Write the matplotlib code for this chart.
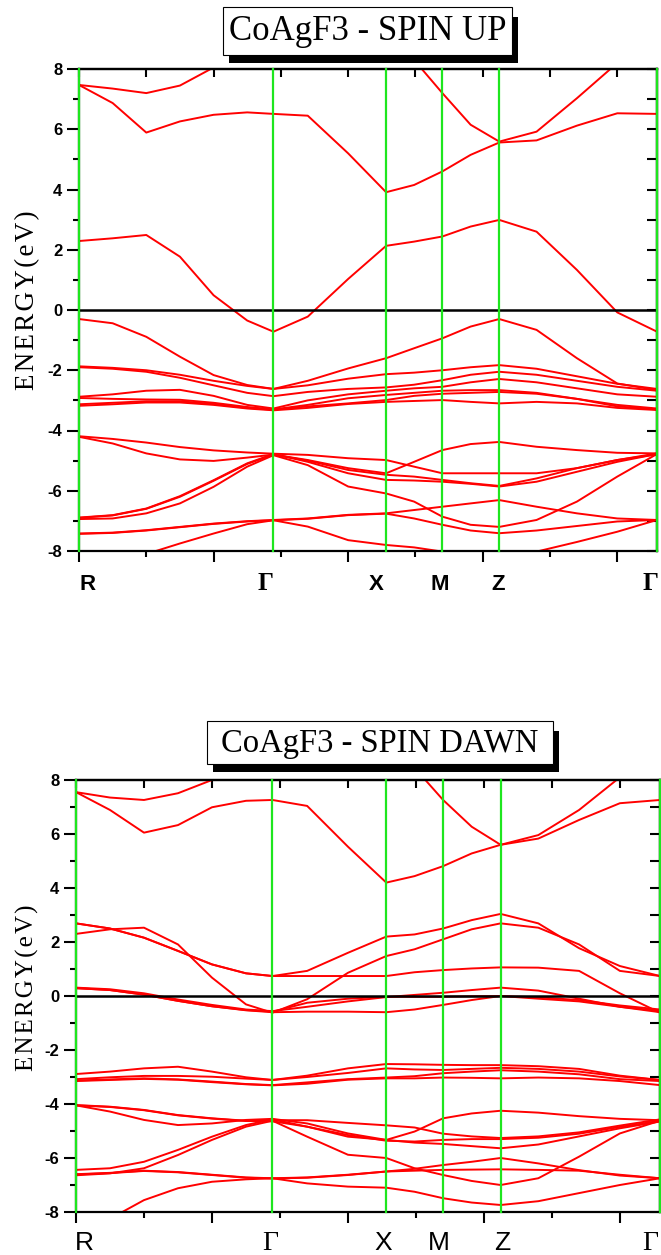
import numpy as np
import matplotlib
matplotlib.use('Agg')
import matplotlib.pyplot as plt
from matplotlib.patches import Rectangle
from matplotlib.ticker import MultipleLocator

plt.rcParams['font.family'] = ['Liberation Sans', 'DejaVu Sans']
plt.rcParams['axes.unicode_minus'] = False

# k path (major tick = 1 unit) and sampled k values used for every band
kgrid = [0.0, 0.25, 0.5, 0.75, 1.0, 1.25, 1.445, 1.7, 2.0, 2.282, 2.49, 2.70,
         2.91, 3.123, 3.4, 3.7, 4.0, 4.295]
kpts = [0.0, 1.445, 2.282, 2.70, 3.123, 4.295]
klabels = ['R', 'Γ', 'X', 'M', 'Z', 'Γ']

# ---------------- spin up bands (eV) ----------------
up_c1 = [7.47, 7.35, 7.2, 7.45, 8.05, 8.8, 9.3, 9.6, 9.8, 9.7, 8.3, 7.2, 6.15, 5.59, 5.92, 7.03, 8.2, 9.5]
up_c2 = [7.47, 6.87, 5.89, 6.26, 6.48, 6.56, 6.51, 6.45, 5.2, 3.91, 4.15, 4.6, 5.15, 5.56, 5.63, 6.12, 6.53, 6.51]
up_c3 = [2.29, 2.38, 2.49, 1.77, 0.49, -0.35, -0.72, -0.22, 1.03, 2.13, 2.27, 2.44, 2.77, 2.99, 2.6, 1.33, -0.08, -0.72]
up_v1 = [-0.3, -0.44, -0.89, -1.55, -2.16, -2.49, -2.62, -2.35, -1.94, -1.6, -1.27, -0.94, -0.55, -0.3, -0.66, -1.6, -2.44, -2.66]
up_p1 = [-1.87, -1.92, -2.0, -2.15, -2.35, -2.52, -2.62, -2.5, -2.28, -2.13, -2.08, -2.0, -1.9, -1.83, -1.95, -2.2, -2.45, -2.62]
up_p2 = [-1.9, -1.95, -2.05, -2.25, -2.5, -2.75, -2.86, -2.72, -2.62, -2.57, -2.48, -2.33, -2.15, -2.05, -2.15, -2.35, -2.55, -2.68]
up_p3 = [-2.88, -2.8, -2.68, -2.65, -2.85, -3.15, -3.27, -3.0, -2.8, -2.68, -2.6, -2.55, -2.4, -2.29, -2.4, -2.6, -2.8, -2.88]
up_p4 = [-2.92, -2.95, -2.97, -2.98, -3.08, -3.22, -3.3, -3.15, -2.93, -2.82, -2.75, -2.68, -2.66, -2.66, -2.75, -2.95, -3.15, -3.27]
up_p5 = [-3.13, -3.08, -3.03, -3.03, -3.12, -3.25, -3.31, -3.2, -3.1, -2.99, -2.85, -2.78, -2.75, -2.72, -2.78, -2.95, -3.2, -3.3]
up_p6 = [-3.18, -3.13, -3.07, -3.07, -3.15, -3.27, -3.33, -3.25, -3.12, -3.05, -3.02, -2.99, -3.05, -3.1, -3.05, -3.1, -3.25, -3.32]
up_l1 = [-4.19, -4.28, -4.4, -4.55, -4.66, -4.73, -4.77, -4.81, -4.92, -4.98, -5.2, -5.42, -5.42, -5.42, -5.42, -5.25, -4.98, -4.76]
up_l2 = [-4.21, -4.43, -4.76, -4.96, -5.01, -4.9, -4.8, -4.98, -5.25, -5.42, -5.04, -4.65, -4.45, -4.38, -4.54, -4.65, -4.74, -4.76]
up_l3 = [-6.89, -6.81, -6.59, -6.18, -5.65, -5.09, -4.78, -5.04, -5.42, -5.64, -5.66, -5.7, -5.77, -5.86, -5.7, -5.37, -5.04, -4.78]
up_l4 = [-6.9, -6.82, -6.6, -6.2, -5.67, -5.11, -4.8, -5.0, -5.31, -5.47, -5.53, -5.64, -5.75, -5.84, -5.59, -5.25, -4.98, -4.79]
up_l5 = [-6.94, -6.92, -6.75, -6.42, -5.87, -5.2, -4.82, -5.15, -5.86, -6.09, -6.36, -6.86, -7.13, -7.2, -6.97, -6.36, -5.53, -4.78]
up_l6 = [-7.42, -7.39, -7.31, -7.2, -7.09, -7.01, -6.97, -6.92, -6.8, -6.75, -6.64, -6.53, -6.42, -6.31, -6.53, -6.75, -6.92, -6.97]
up_l7 = [-7.43, -7.4, -7.32, -7.21, -7.1, -7.02, -6.98, -6.93, -6.81, -6.76, -6.92, -7.13, -7.32, -7.41, -7.32, -7.17, -7.02, -6.97]
up_l8 = [-8.6, -8.35, -8.1, -7.75, -7.42, -7.11, -6.98, -7.19, -7.64, -7.8, -7.88, -8.02, -8.15, -8.25, -8.02, -7.7, -7.36, -6.97]

# ---------------- spin down bands (eV) ----------------
dn_c1 = [7.55, 7.35, 7.26, 7.51, 8.0, 8.7, 9.2, 9.5, 9.6, 9.3, 8.45, 7.26, 6.27, 5.6, 5.96, 6.89, 8.1, 9.4]
dn_c2 = [7.55, 6.89, 6.05, 6.33, 6.99, 7.23, 7.26, 7.04, 5.53, 4.2, 4.44, 4.81, 5.28, 5.6, 5.83, 6.52, 7.14, 7.26]
dn_c3 = [2.69, 2.5, 2.16, 1.67, 1.17, 0.84, 0.74, 0.93, 1.6, 2.2, 2.28, 2.5, 2.81, 3.04, 2.69, 1.77, 1.11, 0.74]
dn_c4 = [2.3, 2.47, 2.53, 1.91, 0.68, -0.31, -0.62, -0.12, 0.86, 1.48, 1.73, 2.1, 2.47, 2.69, 2.53, 1.91, 0.93, 0.74]
dn_c5 = [2.69, 2.5, 2.16, 1.67, 1.17, 0.84, 0.74, 0.74, 0.74, 0.74, 0.88, 0.96, 1.02, 1.06, 1.05, 0.93, 0.1, -0.62]
dn_n1 = [0.31, 0.25, 0.1, -0.13, -0.33, -0.5, -0.56, -0.4, -0.2, -0.04, 0.04, 0.12, 0.22, 0.31, 0.2, -0.1, -0.4, -0.6]
dn_n2 = [0.29, 0.22, 0.05, -0.18, -0.38, -0.52, -0.58, -0.25, -0.1, -0.03, -0.03, -0.03, -0.01, 0.0, -0.05, -0.15, -0.35, -0.5]
dn_n3 = [0.29, 0.22, 0.05, -0.18, -0.38, -0.53, -0.6, -0.58, -0.58, -0.6, -0.5, -0.33, -0.15, 0.0, -0.1, -0.2, -0.4, -0.55]
dn_q1 = [-2.89, -2.8, -2.68, -2.62, -2.8, -3.01, -3.11, -2.95, -2.68, -2.52, -2.53, -2.55, -2.56, -2.56, -2.6, -2.7, -2.95, -3.11]
dn_q2 = [-3.08, -3.01, -2.96, -2.96, -2.99, -3.06, -3.11, -3.0, -2.85, -2.68, -2.72, -2.74, -2.7, -2.66, -2.7, -2.8, -2.98, -3.11]
dn_q3 = [-3.13, -3.09, -3.05, -3.09, -3.17, -3.26, -3.3, -3.2, -3.08, -3.02, -2.97, -2.86, -2.8, -2.75, -2.8, -2.9, -3.08, -3.15]
dn_q4 = [-3.15, -3.11, -3.07, -3.1, -3.19, -3.27, -3.31, -3.25, -3.1, -3.05, -3.05, -3.02, -3.03, -3.05, -3.02, -3.05, -3.15, -3.3]
dn_r1 = [-4.04, -4.1, -4.22, -4.41, -4.53, -4.62, -4.6, -4.6, -4.7, -4.79, -4.87, -5.1, -5.2, -5.26, -5.2, -5.05, -4.8, -4.57]
dn_r2 = [-4.05, -4.28, -4.59, -4.78, -4.72, -4.59, -4.55, -4.72, -5.09, -5.33, -5.02, -4.53, -4.35, -4.25, -4.32, -4.45, -4.55, -4.6]
dn_r3 = [-6.44, -6.38, -6.14, -5.7, -5.21, -4.78, -4.57, -4.84, -5.21, -5.33, -5.43, -5.48, -5.56, -5.64, -5.5, -5.2, -4.9, -4.65]
dn_r4 = [-4.05, -4.11, -4.23, -4.42, -4.54, -4.63, -4.64, -4.84, -5.15, -5.36, -5.39, -5.33, -5.3, -5.3, -5.25, -5.1, -4.85, -4.62]
dn_r5 = [-6.64, -6.57, -6.38, -5.89, -5.33, -4.84, -4.62, -5.21, -5.88, -6.0, -6.38, -6.63, -6.85, -7.0, -6.75, -5.95, -5.09, -4.62]
dn_r6 = [-6.6, -6.55, -6.47, -6.52, -6.62, -6.72, -6.75, -6.72, -6.62, -6.5, -6.4, -6.26, -6.14, -6.0, -6.2, -6.45, -6.65, -6.75]
dn_r7 = [-6.61, -6.56, -6.48, -6.53, -6.63, -6.73, -6.76, -6.73, -6.63, -6.5, -6.47, -6.44, -6.43, -6.42, -6.44, -6.47, -6.62, -6.75]
dn_r8 = [-8.6, -8.25, -7.56, -7.12, -6.88, -6.79, -6.75, -6.94, -7.06, -7.1, -7.25, -7.49, -7.65, -7.74, -7.6, -7.3, -7.0, -6.75]

bands_up = [up_c1, up_c2, up_c3, up_v1, up_p1, up_p2, up_p3, up_p4, up_p5, up_p6,
            up_l1, up_l2, up_l3, up_l4, up_l5, up_l6, up_l7, up_l8]
bands_dn = [dn_c1, dn_c2, dn_c3, dn_c4, dn_c5, dn_n1, dn_n2, dn_n3, dn_q1, dn_q2,
            dn_q3, dn_q4, dn_r1, dn_r2, dn_r3, dn_r4, dn_r5, dn_r6, dn_r7, dn_r8]

W, H = 661, 1255
fig = plt.figure(figsize=(W / 100, H / 100), dpi=100)
serif = ['Liberation Serif', 'DejaVu Serif']
ylab = 'E\u200aN\u200aE\u200aR\u200aG\u200aY\u200a(\u200ae\u200aV\u200a)'


def fx(px):
    return px / W


def fy(py):
    return 1 - py / H


def draw_panel(ax, bands):
    for b in bands:
        ax.plot(kgrid, b, color='red', lw=1.4, zorder=2)
    ax.axhline(0, color='black', lw=1.8, zorder=3)
    for k in kpts:
        ax.axvline(k, color='#1ee61e', lw=1.6, zorder=4, clip_on=False)
    ax.set_xlim(0, kpts[-1])
    ax.set_ylim(-8, 8)
    ax.xaxis.set_major_locator(MultipleLocator(1))
    ax.xaxis.set_minor_locator(MultipleLocator(0.5))
    ax.yaxis.set_major_locator(MultipleLocator(2))
    ax.yaxis.set_minor_locator(MultipleLocator(1))
    ax.tick_params(axis='x', which='major', direction='out', length=8, width=1.5, labelbottom=False)
    ax.tick_params(axis='x', which='minor', direction='out', length=4, width=1.5)
    ax.tick_params(axis='y', which='major', direction='out', length=9, width=1.5, pad=3)
    ax.tick_params(axis='y', which='minor', direction='out', length=4, width=1.5)
    for lab in ax.get_yticklabels():
        lab.set_fontweight('bold')
        lab.set_fontsize(12)
    for s in ax.spines.values():
        s.set_linewidth(1.6)
    sy = ax.secondary_yaxis('right')
    sy.set_yticks(np.arange(-8, 9, 1))
    sy.tick_params(direction='in', length=7, width=1.5, labelright=False)
    sy.spines['right'].set_linewidth(1.6)
    sx = ax.secondary_xaxis('top')
    sx.set_xticks(np.arange(0, 4.3, 0.5))
    sx.tick_params(direction='in', length=6, width=1.5, labeltop=False)
    sx.spines['top'].set_linewidth(1.6)


def title_box(x0, y0, x1, y1, text, size):
    shadow = Rectangle((fx(x0 + 6), fy(y1 + 8)), (x1 - x0) / W, (y1 - y0 - 2) / H,
                       transform=fig.transFigure, facecolor='black', edgecolor='none')
    box = Rectangle((fx(x0), fy(y1)), (x1 - x0) / W, (y1 - y0) / H,
                    transform=fig.transFigure, facecolor='white', edgecolor='black', lw=0.8)
    fig.add_artist(shadow)
    fig.add_artist(box)
    fig.text(fx((x0 + x1) / 2), fy((y0 + y1) / 2 + 1), text, ha='center', va='center',
             fontsize=size, family=serif)


# top panel: spin up
ax1 = fig.add_axes([fx(79), fy(551), (657 - 79) / W, (551 - 69) / H])
draw_panel(ax1, bands_up)
fig.text(fx(28), fy(300), ylab, rotation=90, ha='center', va='center',
         fontsize=19.5, family=serif)
title_box(223, 7, 512, 55, 'CoAgF3 - SPIN UP', 25)
up_lab_x = [88, 266, 376, 440, 498, 651]
for x, t in zip(up_lab_x, klabels):
    fam = serif if t == 'Γ' else ['Liberation Sans']
    size = 18 if t == 'Γ' else 16
    fig.text(fx(x), fy(584), t, ha='center', va='center', fontsize=size,
             fontweight='bold', family=fam)

# bottom panel: spin down
ax2 = fig.add_axes([fx(76), fy(1212), (660 - 76) / W, (1212 - 780) / H])
draw_panel(ax2, bands_dn)
fig.text(fx(27), fy(988), ylab, rotation=90, ha='center', va='center',
         fontsize=18, family=serif)
title_box(207, 721, 553, 764, 'CoAgF3 - SPIN DAWN', 23.5)
dn_lab_x = [84, 270, 383, 439, 502, 650]
for x, t in zip(dn_lab_x, klabels):
    fam = serif if t == 'Γ' else ['Liberation Sans']
    size = 20 if t == 'Γ' else 19
    fig.text(fx(x), fy(1243), t, ha='center', va='center', fontsize=size, family=fam)

fig.savefig('out.png', dpi=100)
